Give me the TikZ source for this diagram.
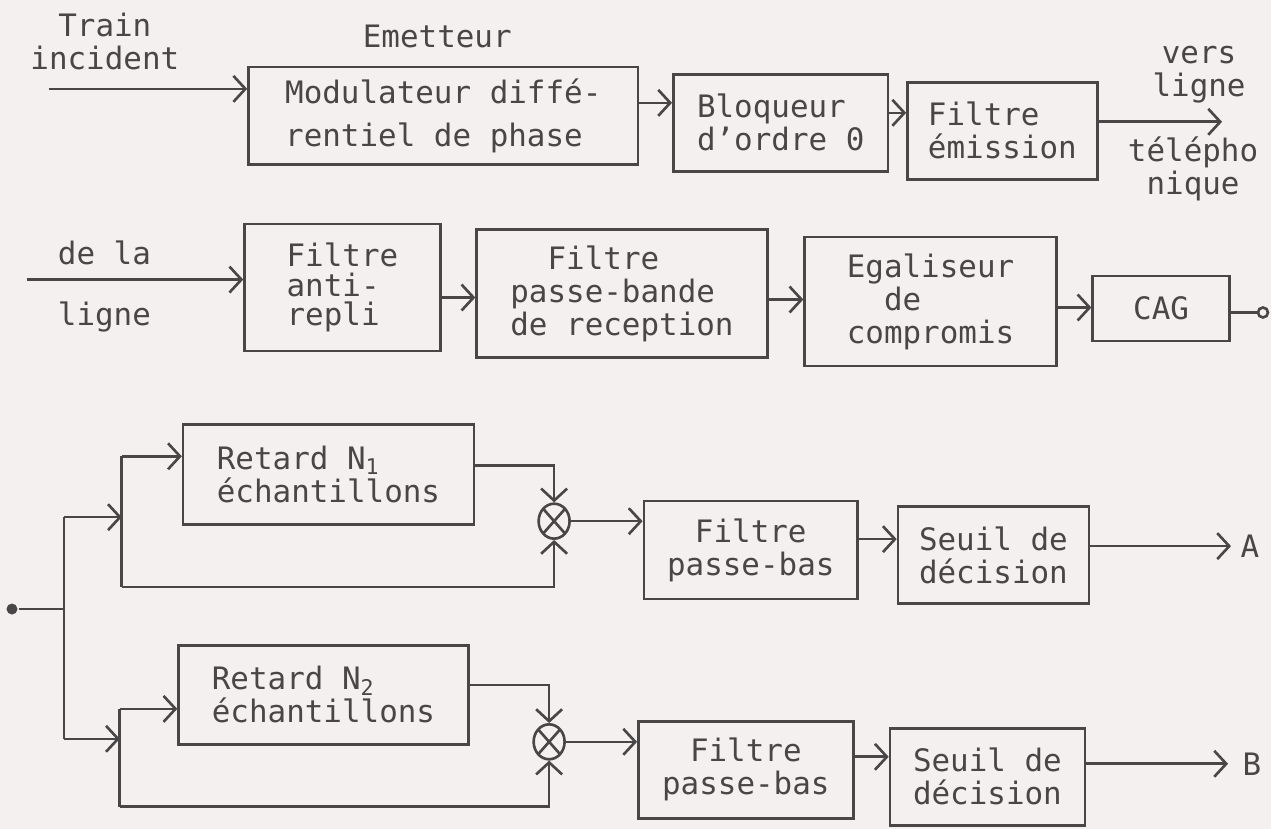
\documentclass[tikz,border=0pt]{standalone}
\usepackage{fontspec}
\setmainfont{DejaVu Sans Mono}
\usetikzlibrary{arrows.meta,shapes.geometric}

\definecolor{paper}{RGB}{244,240,239}
\definecolor{ink}{RGB}{72,70,70}

\tikzset{
    bloc/.style={draw, rectangle, inner sep=0pt, align=left},
    legende/.style={align=center},
    fleche/.style={-{Straight Barb[length=1.2mm,width=2.6mm]}},
    mult/.style={ellipse, draw, minimum width=0.31cm, minimum height=0.35cm, inner sep=0pt,
        path picture={\draw (path picture bounding box.north west) -- (path picture bounding box.south east)
                            (path picture bounding box.north east) -- (path picture bounding box.south west);}},
}

\begin{document}
\begin{tikzpicture}[x=0.01cm, y=-0.01cm, ink, line width=0.75pt, font=\fontsize{8.8}{9.4}\selectfont]

        \fill[paper] (0,0) rectangle (1273,830);

        \node[bloc, minimum width=3.90cm, minimum height=0.98cm] (mod) at (444,116) {Modulateur diffé-\\[3pt]rentiel de phase};
        \node[bloc, minimum width=2.15cm, minimum height=0.97cm] (bloq) at (782,123) {Bloqueur\\d'ordre 0};
        \node[bloc, minimum width=1.90cm, minimum height=0.97cm] (fem) at (1004,131) {Filtre\\émission};

        \node[legende] (train) at (105,42) {Train\\incident};
        \node (emet) at (438,37) {Emetteur};
        \node[legende] (vers) at (1201,75) {vers\\ligne};
        \node[legende] (tele) at (1195,169) {télépho\\nique};

        \coordinate (in1) at (49,89);
        \coordinate (out1) at (1224,122);
        \draw[fleche] (in1) -- (in1 -| mod.west);
        \draw[fleche] (mod.east |- 0,103) -- (bloq.west |- 0,103);
        \draw[fleche] (bloq.east |- 0,113) -- (fem.west |- 0,113);
        \draw[fleche] (fem.east |- out1) -- (out1);

        \node[bloc, minimum width=1.96cm, minimum height=1.27cm] (arep) at (343,288) {Filtre\\[-1pt]anti-\\[-1pt]repli};
        \node[bloc, minimum width=2.91cm, minimum height=1.28cm] (pbr) at (623,294) {\phantom{xx}Filtre\\passe-bande\\de reception};
        \node[bloc, minimum width=2.52cm, minimum height=1.29cm] (ega) at (932,302) {Egaliseur\\\phantom{xx}de\\compromis};
        \node[bloc, minimum width=1.37cm, minimum height=0.65cm] (cag) at (1163,309) {CAG};
        \node[circle, draw, fill=paper, minimum size=0.10cm, inner sep=0pt] (sortie) at (1265,313) {};

        \node[anchor=west] (dela) at (45,253) {de la};
        \node[anchor=west] (ligne) at (45,317) {ligne};

        \coordinate (in2) at (27,280);
        \draw[fleche] (in2) -- (in2 -| arep.west);
        \draw[fleche] (arep.east |- 0,298) -- (pbr.west |- 0,298);
        \draw[fleche] (pbr.east |- 0,300) -- (ega.west |- 0,300);
        \draw[fleche] (ega.east |- 0,308) -- (cag.west |- 0,308);
        \draw (cag.east |- sortie) -- (sortie);

        \node[bloc, minimum width=2.91cm, minimum height=1.00cm] (rt1) at (329,475) {Retard N\textsubscript{1}\\échantillons};
        \node[mult] (mult1) at (555,522) {};
        \node[bloc, align=center, minimum width=2.14cm, minimum height=0.98cm] (pb1) at (752,551) {Filtre\\passe-bas};
        \node[bloc, align=center, minimum width=1.91cm, minimum height=0.97cm] (seu1) at (995,556) {Seuil de\\décision};
        \node (lettreA) at (1252,547) {A};

        \node[bloc, minimum width=2.90cm, minimum height=0.99cm] (rt2) at (324,696) {Retard N\textsubscript{2}\\échantillons};
        \node[mult] (mult2) at (550,743) {};
        \node[bloc, align=center, minimum width=2.15cm, minimum height=0.97cm] (pb2) at (747,771) {Filtre\\passe-bas};
        \node[bloc, align=center, minimum width=1.95cm, minimum height=0.97cm] (seu2) at (989,778) {Seuil de\\décision};
        \node (lettreB) at (1254,765) {B};

        \node[circle, fill=ink, minimum size=0.11cm, inner sep=0pt] (entree) at (12,610) {};

        \coordinate (fork) at (64,610);
        \coordinate (fa) at (64,518);
        \coordinate (fb) at (64,740);
        \coordinate (ga) at (122,518);
        \coordinate (gb) at (120,740);
        \coordinate (ga1) at (122,457);
        \coordinate (ga2) at (122,588);
        \coordinate (gb1) at (120,710);
        \coordinate (gb2) at (120,808);
        \coordinate (outA) at (1233,547);
        \coordinate (outB) at (1230,765);

        \draw (entree) -- (fork);
        \draw (fa) -- (fb);
        \draw[fleche] (fa) -- (ga);
        \draw[fleche] (fb) -- (gb);
        \draw (ga1) -- (ga2);
        \draw (gb1) -- (gb2);

        \draw[fleche] (ga1) -- (ga1 -| rt1.west);
        \draw[fleche] (rt1.east |- 0,466) -| (mult1);
        \draw[fleche] (ga2) -| (mult1);
        \draw[fleche] (mult1) -- (mult1 -| pb1.west);
        \draw[fleche] (pb1.east |- 0,540) -- (seu1.west |- 0,540);
        \draw[fleche] (seu1.east |- outA) -- (outA);

        \draw[fleche] (gb1) -- (gb1 -| rt2.west);
        \draw[fleche] (rt2.east |- 0,686) -| (mult2);
        \draw[fleche] (gb2) -| (mult2);
        \draw[fleche] (mult2) -- (mult2 -| pb2.west);
        \draw[fleche] (pb2.east |- 0,758) -- (seu2.west |- 0,758);
        \draw[fleche] (seu2.east |- outB) -- (outB);

\end{tikzpicture}
\end{document}
